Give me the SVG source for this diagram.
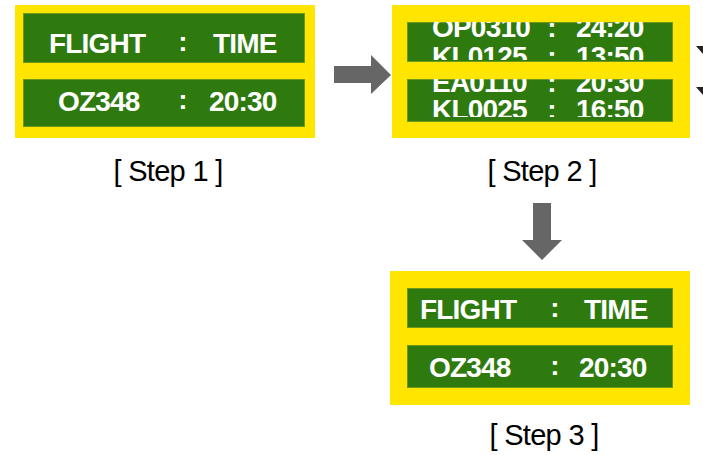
<svg xmlns="http://www.w3.org/2000/svg" width="703" height="455" viewBox="0 0 703 455">
<style>
.frame{fill:#FFE500}
.panel{fill:#2E7A0E;stroke:#6E9A1A;stroke-width:1}
.t{font-family:"Liberation Sans",Arial,sans-serif;font-weight:bold;font-size:28px;fill:#FFFFFF;letter-spacing:-0.8px}
.c{text-anchor:middle;letter-spacing:0}
.lbl{font-family:"Liberation Sans",Arial,sans-serif;font-size:29px;fill:#000000;text-anchor:middle;letter-spacing:-0.7px}
.arr{fill:#666666}
</style>
<defs>
<clipPath id="clipA"><rect x="407" y="22" width="266" height="38"/></clipPath>
<clipPath id="clipB"><rect x="407" y="79" width="266" height="38"/></clipPath>
</defs>
<rect width="703" height="455" fill="#FFFFFF"/>
<g id="step1">
<rect class="frame" x="15" y="5" width="300" height="133"/>
<rect class="panel" x="23.5" y="13.5" width="281" height="49"/>
<rect class="panel" x="23.5" y="79.5" width="281" height="47"/>
<text class="t" x="49" y="53">FLIGHT</text>
<text class="t c" x="183" y="51">:</text>
<text class="t" x="213" y="53">TIME</text>
<text class="t" x="58" y="111">OZ348</text>
<text class="t c" x="183" y="109">:</text>
<text class="t" x="209" y="111">20:30</text>
<text class="lbl" x="168" y="181">[ Step 1 ]</text>
</g>
<g id="step2">
<rect class="frame" x="392" y="5" width="298" height="133"/>
<rect class="panel" x="407.5" y="22.5" width="265" height="39"/>
<rect class="panel" x="407.5" y="79.5" width="265" height="42"/>
<g clip-path="url(#clipA)">
<text class="t" x="432" y="37">OP0310</text>
<text class="t c" x="552" y="37">:</text>
<text class="t" x="576" y="37">24:20</text>
<text class="t" x="432" y="66">KL0125</text>
<text class="t c" x="552" y="66">:</text>
<text class="t" x="576" y="66">13:50</text>
</g>
<g clip-path="url(#clipB)">
<text class="t" x="432" y="92">EA0110</text>
<text class="t c" x="552" y="92">:</text>
<text class="t" x="576" y="92">20:30</text>
<text class="t" x="432" y="119">KL0025</text>
<text class="t c" x="552" y="119">:</text>
<text class="t" x="576" y="119">16:50</text>
</g>
<text class="lbl" x="542" y="181">[ Step 2 ]</text>
</g>
<g id="step3">
<rect class="frame" x="390" y="271" width="300" height="134"/>
<rect class="panel" x="407.5" y="288.5" width="265" height="39"/>
<rect class="panel" x="407.5" y="345.5" width="265" height="42"/>
<text class="t" x="420" y="319">FLIGHT</text>
<text class="t c" x="555" y="317">:</text>
<text class="t" x="584" y="319">TIME</text>
<text class="t" x="429" y="377">OZ348</text>
<text class="t c" x="555" y="375">:</text>
<text class="t" x="579" y="377">20:30</text>
<text class="lbl" x="544" y="445">[ Step 3 ]</text>
</g>
<g id="connectors">
<polygon class="arr" points="334,66 371,66 371,55 391,75 371,94 371,83 334,83"/>
<polygon class="arr" points="533,203 551,203 551,240 562,240 542,260 522,240 533,240"/>
<polygon fill="#222222" points="696,46 712,46 704,55"/>
<polygon fill="#222222" points="696,87 712,87 704,96"/>
</g>
</svg>
